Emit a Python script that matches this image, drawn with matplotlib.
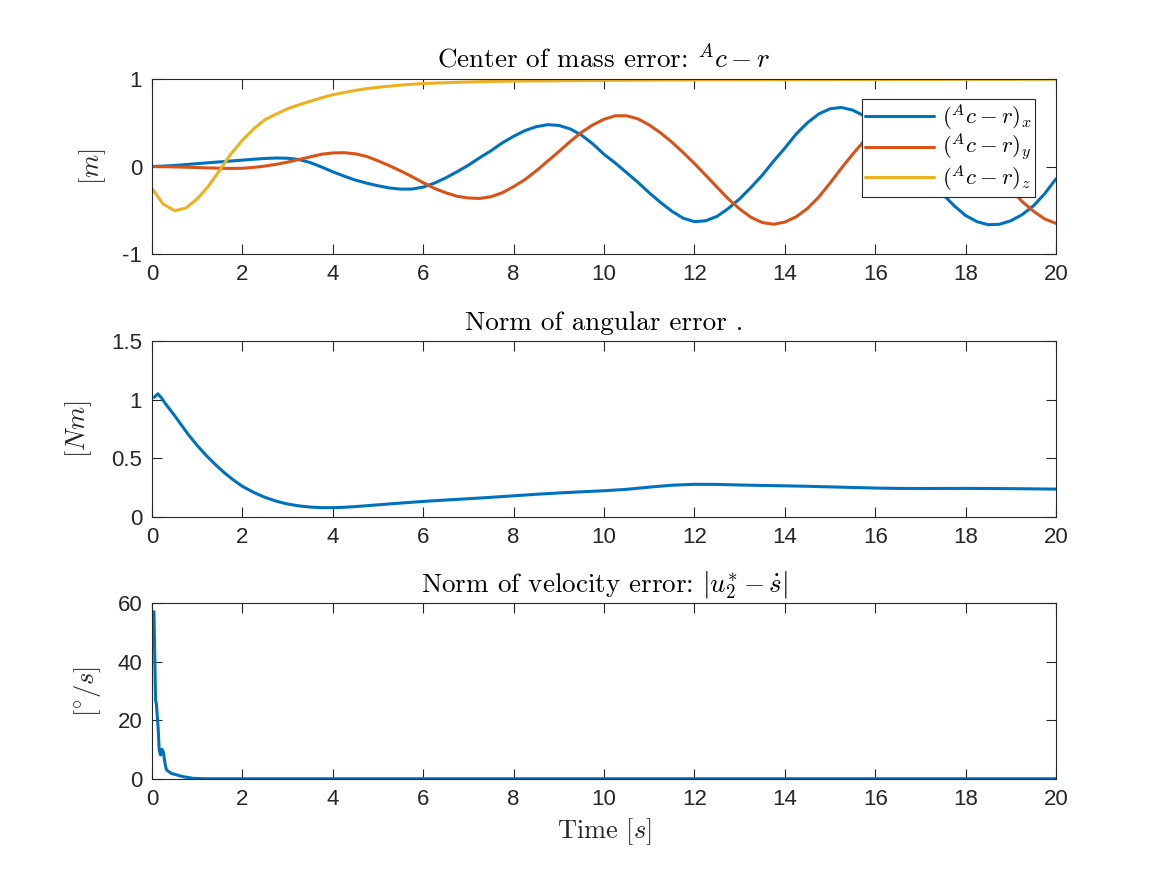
import matplotlib
matplotlib.use("Agg")
import matplotlib.pyplot as plt

# ---------------- data ----------------
t_top = [0.0, 0.25, 0.5, 0.75, 1.0, 1.25, 1.5, 1.75, 2.0, 2.25, 2.5, 2.75, 3.0, 3.25, 3.5, 3.75,
         4.0, 4.25, 4.5, 4.75, 5.0, 5.25, 5.5, 5.75, 6.0, 6.25, 6.5, 6.75, 7.0, 7.25, 7.5, 7.75,
         8.0, 8.25, 8.5, 8.75, 9.0, 9.25, 9.5, 9.75, 10.0, 10.25, 10.5, 10.75, 11.0, 11.25, 11.5, 11.75,
         12.0, 12.25, 12.5, 12.75, 13.0, 13.25, 13.5, 13.75, 14.0, 14.25, 14.5, 14.75, 15.0, 15.25, 15.5, 15.75,
         16.0, 16.25, 16.5, 16.75, 17.0, 17.25, 17.5, 17.75, 18.0, 18.25, 18.5, 18.75, 19.0, 19.25, 19.5, 19.75, 20.0]

com_x = [0.0, 0.005, 0.012, 0.022, 0.033, 0.043, 0.053, 0.063, 0.073, 0.083, 0.092, 0.097, 0.095, 0.08, 0.045, -0.005,
         -0.06, -0.11, -0.155, -0.19, -0.22, -0.245, -0.258, -0.258, -0.235, -0.19, -0.13, -0.06, 0.015, 0.1, 0.18, 0.27,
         0.345, 0.41, 0.455, 0.478, 0.47, 0.43, 0.36, 0.26, 0.14, 0.04, -0.07, -0.18, -0.3, -0.41, -0.51, -0.59,
         -0.63, -0.62, -0.57, -0.48, -0.37, -0.24, -0.1, 0.06, 0.21, 0.37, 0.5, 0.6, 0.66, 0.675, 0.645, 0.58,
         0.49, 0.38, 0.26, 0.12, -0.02, -0.18, -0.32, -0.45, -0.56, -0.63, -0.665, -0.66, -0.62, -0.55, -0.45, -0.31, -0.14]

com_y = [0.0, -0.002, -0.005, -0.008, -0.012, -0.016, -0.02, -0.022, -0.02, -0.01, 0.005, 0.025, 0.05, 0.08, 0.11, 0.14,
         0.155, 0.158, 0.145, 0.115, 0.065, 0.01, -0.05, -0.115, -0.185, -0.25, -0.3, -0.34, -0.36, -0.365, -0.345, -0.3,
         -0.23, -0.15, -0.05, 0.06, 0.17, 0.285, 0.39, 0.475, 0.54, 0.58, 0.58, 0.545, 0.475, 0.385, 0.28, 0.16,
         0.035, -0.1, -0.235, -0.37, -0.485, -0.58, -0.64, -0.66, -0.635, -0.575, -0.48, -0.35, -0.19, -0.02, 0.14, 0.29,
         0.42, 0.53, 0.6, 0.64, 0.65, 0.63, 0.57, 0.48, 0.37, 0.22, 0.06, -0.1, -0.26, -0.4, -0.51, -0.6, -0.65]

com_z = [-0.25, -0.43, -0.505, -0.475, -0.37, -0.225, -0.04, 0.145, 0.3, 0.43, 0.535, 0.6, 0.66, 0.705, 0.745, 0.785,
         0.82, 0.845, 0.87, 0.89, 0.905, 0.918, 0.93, 0.94, 0.948, 0.953, 0.958, 0.962, 0.966, 0.969, 0.972, 0.974,
         0.976, 0.977, 0.978, 0.979, 0.98, 0.981, 0.982, 0.983, 0.984, 0.985, 0.986, 0.987, 0.987, 0.988, 0.988, 0.989,
         0.989, 0.99, 0.99, 0.99, 0.991, 0.991, 0.991, 0.992, 0.992, 0.992, 0.993, 0.993, 0.993, 0.993, 0.994, 0.994,
         0.994, 0.994, 0.995, 0.995, 0.995, 0.995, 0.995, 0.996, 0.996, 0.996, 0.996, 0.996, 0.996, 0.997, 0.997, 0.997, 0.997]

t_mid = [0.05, 0.13, 0.2, 0.3, 0.4, 0.5, 0.65, 0.8, 1.0, 1.2, 1.4, 1.6, 1.8, 2.0, 2.25, 2.5, 2.75, 3.0,
         3.25, 3.5, 3.75, 4.0, 4.25, 4.5, 5.0, 5.5, 6.0, 6.5, 7.0, 7.5, 8.0, 8.5, 9.0, 9.5, 10.0, 10.5,
         11.0, 11.5, 12.0, 12.5, 13.0, 13.5, 14.0, 14.5, 15.0, 15.5, 16.0, 16.5, 17.0, 18.0, 19.0, 20.0]
ang_err = [1.02, 1.05, 1.02, 0.965, 0.915, 0.865, 0.785, 0.705, 0.61, 0.525, 0.448, 0.378, 0.316, 0.262, 0.21, 0.168, 0.135, 0.111,
           0.095, 0.085, 0.08, 0.08, 0.083, 0.089, 0.104, 0.119, 0.133, 0.145, 0.156, 0.168, 0.181, 0.194, 0.205, 0.215, 0.224, 0.236,
           0.255, 0.271, 0.279, 0.278, 0.273, 0.269, 0.266, 0.262, 0.257, 0.252, 0.247, 0.244, 0.243, 0.244, 0.242, 0.238]

t_bot = [0.044, 0.08, 0.1, 0.14, 0.16, 0.19, 0.22, 0.25, 0.29, 0.32, 0.43, 0.55, 0.69, 0.91, 1.2,
         2, 4, 6, 8, 10, 12, 14, 16, 18, 20]
vel_err = [57, 27, 25.2, 16.7, 9.9, 8.2, 10.1, 9.3, 5.3, 3.1, 1.9, 1.4, 0.8, 0.23, 0.1,
           0.1, 0.1, 0.1, 0.1, 0.1, 0.1, 0.1, 0.1, 0.1, 0.1]

legend_labels = [r'$(^{A}c-r)_x$', r'$(^{A}c-r)_y$', r'$(^{A}c-r)_z$']
x_ticks = list(range(0, 21, 2))
top_yticks = [-1, 0, 1]
mid_yticks = [0, 0.5, 1, 1.5]
bot_yticks = [0, 20, 40, 60]

# ---------------- style ----------------
plt.rcParams['mathtext.fontset'] = 'cm'
plt.rcParams['font.family'] = ['Liberation Sans', 'DejaVu Sans']
C1, C2, C3 = '#0072BD', '#D95319', '#EDB120'
EDGE = '#262626'
LW = 2.2
TICKFS = 16
TITLEFS = 19.5
LABELFS = 19
SERIF = 'cmr10'

fig = plt.figure(figsize=(11.67, 8.75), dpi=100)
left, width = 0.1302, 0.7747
ax1 = fig.add_axes([left, 0.7097, width, 0.2000])
ax2 = fig.add_axes([left, 0.4091, width, 0.2012])
ax3 = fig.add_axes([left, 0.1097, width, 0.2012])


def style(ax, yticks, ylim, ylab, ylab_x):
    ax.set_xlim(0, 20)
    ax.set_ylim(*ylim)
    ax.set_xticks(x_ticks)
    ax.set_xticklabels([str(v) for v in x_ticks])
    ax.set_yticks(yticks)
    ax.set_yticklabels([('%g' % v) for v in yticks])
    ax.tick_params(direction='in', top=True, right=True, length=7, width=0.8,
                   color=EDGE, labelcolor=EDGE, labelsize=TICKFS, pad=7)
    for s in ax.spines.values():
        s.set_color(EDGE)
        s.set_linewidth(0.8)
    ax.set_ylabel(ylab, fontsize=LABELFS, color=EDGE)
    ax.yaxis.set_label_coords(ylab_x, 0.5)


kw = dict(lw=LW, solid_joinstyle='round', solid_capstyle='round')
ax1.plot(t_top, com_x, color=C1, label=legend_labels[0], **kw)
ax1.plot(t_top, com_y, color=C2, label=legend_labels[1], **kw)
ax1.plot(t_top, com_z, color=C3, label=legend_labels[2], **kw)
style(ax1, top_yticks, (-1, 1), r'$[m]$', -0.049)
ax1.set_title(r'Center of mass error: $^{A}c-r$', fontsize=TITLEFS, family=SERIF, color='black', pad=8)
leg = ax1.legend(loc='upper right', bbox_to_anchor=(0.977, 0.886), fontsize=16.5,
                 frameon=True, fancybox=False, framealpha=1, edgecolor=EDGE,
                 handlelength=3.0, handletextpad=0.35, borderpad=0.15, labelspacing=0.0,
                 borderaxespad=0.0)
leg.get_frame().set_linewidth(0.8)

ax2.plot(t_mid, ang_err, color=C1, **kw)
style(ax2, mid_yticks, (0, 1.5), r'$[Nm]$', -0.064)
ax2.set_title('Norm of angular error .', fontsize=TITLEFS, family=SERIF, color='black', pad=8)

ax3.plot(t_bot, vel_err, color=C1, **kw)
style(ax3, bot_yticks, (0, 60), r'$[^{\circ}/s]$', -0.054)
ax3.set_title(r'Norm of velocity error: $|u_2^{*}-\dot{s}|$', fontsize=TITLEFS, family=SERIF, color='black', pad=8)
ax3.set_xlabel(r'Time $[s]$', fontsize=LABELFS, family=SERIF, color=EDGE, labelpad=5)

fig.savefig('out.png', dpi=100, facecolor='white')
